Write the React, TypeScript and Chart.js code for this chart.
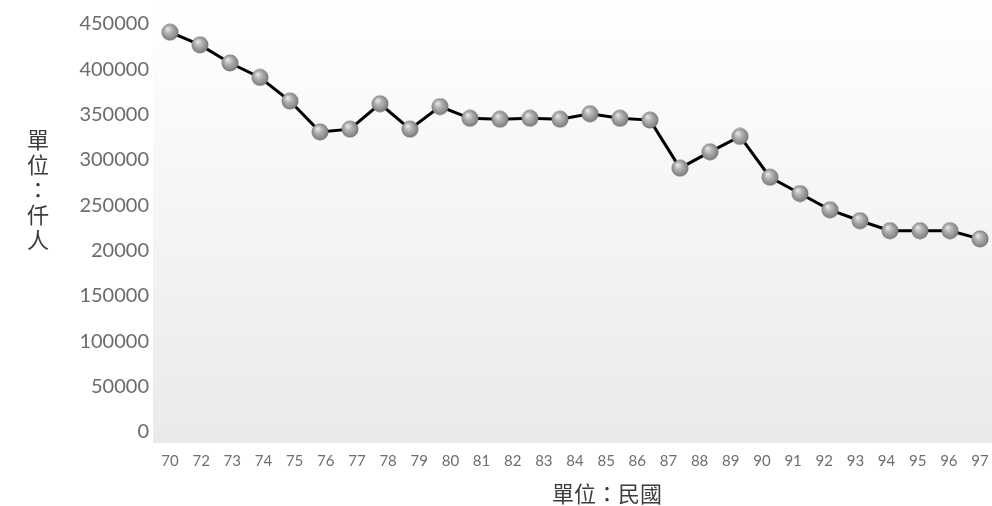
import React, { useEffect, useRef } from "react";
import { Chart, registerables } from "chart.js";

Chart.register(...registerables);

// Data categories (years, ROC calendar)
const years = [
  "70", "71", "72", "73", "74", "75", "76", "77", "78", "79",
  "80", "81", "82", "83", "84", "85", "86", "87", "88", "89",
  "90", "91", "92", "93", "94", "95", "96", "97",
];

// Visible x tick labels (as printed on the reference)
const xTickLabels = [
  "70", "72", "73", "74", "75", "76", "77", "78", "79", "80",
  "81", "82", "83", "84", "85", "86", "87", "88", "89", "90",
  "91", "92", "93", "94", "95", "96", "97",
];

// Series values (thousand persons)
const population = [
  441000, 427000, 407000, 391000, 365000, 331000, 334000, 362000, 334000, 359000,
  346000, 345000, 346000, 345000, 351000, 346000, 344000, 291000, 309000, 326000,
  281000, 263000, 245000, 233000, 222000, 222000, 222000, 213000,
];

// Y tick labels as printed on the reference
const yTickLabels = [
  "0", "50000", "100000", "150000", "20000",
  "250000", "300000", "350000", "400000", "450000",
];

const yTitleChars = ["單", "位", "：", "仟", "人"];
const xTitle = "單位：民國";

function makeSphere(): HTMLCanvasElement {
  const size = 18;
  const c = document.createElement("canvas");
  c.width = size;
  c.height = size;
  const g = c.getContext("2d")!;
  const grad = g.createRadialGradient(6.5, 5.5, 0.5, 9, 9, 9.5);
  grad.addColorStop(0, "#e6e6e6");
  grad.addColorStop(0.35, "#b4b4b4");
  grad.addColorStop(0.75, "#8c8c8c");
  grad.addColorStop(1, "#656565");
  g.fillStyle = grad;
  g.beginPath();
  g.arc(9, 9, 8.5, 0, Math.PI * 2);
  g.fill();
  return c;
}

const backgroundPlugin = {
  id: "plotBackground",
  beforeDraw(chart: any) {
    const { ctx, chartArea } = chart;
    const left = chartArea.left - 17;
    const bottom = chartArea.bottom + 11;
    const grad = ctx.createLinearGradient(0, 0, 0, bottom);
    grad.addColorStop(0, "#ffffff");
    grad.addColorStop(1, "#e9eaea");
    ctx.save();
    ctx.fillStyle = grad;
    ctx.fillRect(left, 0, chart.width - left, bottom);
    ctx.restore();
  },
};

const titlesPlugin = {
  id: "cjkTitles",
  afterDraw(chart: any) {
    const { ctx } = chart;
    ctx.save();
    ctx.fillStyle = "#3c3c3c";
    ctx.font = '22px "Noto Sans CJK TC", sans-serif';
    ctx.textAlign = "center";
    ctx.textBaseline = "middle";
    yTitleChars.forEach((ch, i) => {
      ctx.fillText(ch, 38, 140 + i * 25);
    });
    ctx.fillText(xTitle, 607, 494);
    ctx.restore();
  },
};

export default function App() {
  const canvasRef = useRef<HTMLCanvasElement | null>(null);

  useEffect(() => {
    if (!canvasRef.current) return;
    const sphere = makeSphere();
    const chart = new Chart(canvasRef.current, {
      type: "line",
      data: {
        labels: years,
        datasets: [
          {
            data: population,
            borderColor: "#000000",
            borderWidth: 3,
            pointStyle: sphere as any,
            pointRadius: 9,
            pointHoverRadius: 9,
            tension: 0,
            fill: false,
            clip: false,
            xAxisID: "x",
            yAxisID: "y",
          },
        ],
      },
      options: {
        responsive: false,
        animation: false,
        layout: { padding: { top: 24, right: 12, left: 0, bottom: 0 } },
        plugins: {
          legend: { display: false },
          tooltip: { enabled: false },
          title: { display: false },
        },
        scales: {
          x: {
            type: "category",
            display: false,
            offset: false,
          },
          x2: {
            type: "category",
            position: "bottom",
            labels: xTickLabels,
            offset: false,
            grid: { display: false, drawTicks: false },
            border: { display: false },
            ticks: {
              autoSkip: false,
              maxRotation: 0,
              padding: 20,
              color: "#6e6e6e",
              font: { family: "Lato", size: 15 },
            },
            afterFit(scale: any) {
              scale.height = 74;
              scale.paddingLeft = 0;
              scale.paddingRight = 0;
            },
          },
          y: {
            type: "linear",
            min: 0,
            max: 450000,
            grid: { display: false, drawTicks: false },
            border: { display: false },
            ticks: {
              stepSize: 50000,
              padding: 21,
              color: "#6b6b6b",
              font: { family: "Lato", size: 20 },
              callback: (_v: any, i: number) => yTickLabels[i],
            },
            afterFit(scale: any) {
              scale.width = 170;
              scale.paddingTop = 0;
              scale.paddingBottom = 0;
            },
          },
        },
      } as any,
      plugins: [backgroundPlugin, titlesPlugin],
    });
    return () => chart.destroy();
  }, []);

  return (
    <div style={{ position: "fixed", left: 0, top: 0, width: 992, height: 506, background: "#ffffff" }}>
      <canvas ref={canvasRef} width={992} height={506} style={{ display: "block" }} />
    </div>
  );
}
